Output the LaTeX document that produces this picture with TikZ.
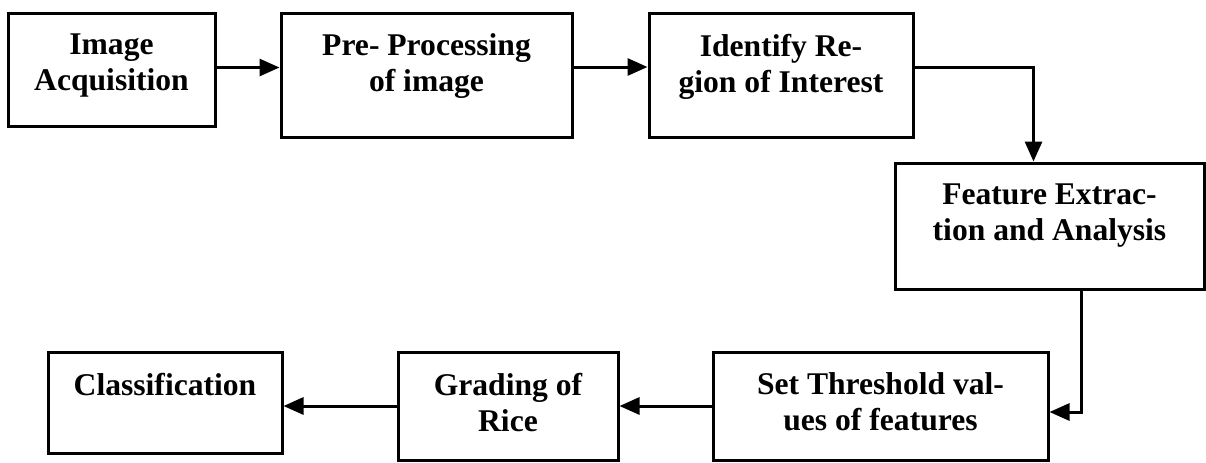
\documentclass[tikz,border=0pt]{standalone}
\usepackage{fontspec}
\setmainfont{Liberation Serif}
\usetikzlibrary{arrows.meta}

\begin{document}
\begin{tikzpicture}[x=0.5pt, y=-0.5pt,
    box/.style={draw, line width=1.5pt, inner sep=0pt},
    txt/.style={anchor=north, align=center, inner sep=0pt, font=\fontsize{15.8}{18}\selectfont\bfseries},
    arr/.style={line width=1.5pt, -{Triangle[length=10pt, width=8.5pt]}}]
  \useasboundingbox (0,0) rectangle (1206,462);
  % Top row
  \node[box, minimum width=103.5pt, minimum height=56.5pt] (acq) at (111.5,69.5) {};
  \node[txt] (acqtxt) at ([yshift=-11pt]acq.north) {Image\\Acquisition};
  \node[box, minimum width=145.5pt, minimum height=62pt] (pre) at (426.5,75) {};
  \node[txt] (pretxt) at ([yshift=-11pt]pre.north) {Pre- Processing\\of image};
  \node[box, minimum width=132pt, minimum height=62pt] (roi) at (781,75) {};
  \node[txt] (roitxt) at ([yshift=-11pt]roi.north) {Identify Re-\\gion of Interest};
  % Right
  \node[box, minimum width=154.5pt, minimum height=63pt] (feat) at (1049.5,226) {};
  \node[txt] (feattxt) at ([yshift=-11pt]feat.north) {Feature Extrac-\\tion and Analysis};
  % Bottom row
  \node[box, minimum width=167.5pt, minimum height=54pt] (thr) at (880.5,406) {};
  \node[txt] (thrtxt) at ([yshift=-11pt]thr.north) {Set Threshold val-\\ues of features};
  \node[box, minimum width=110pt, minimum height=54pt] (grade) at (508,406) {};
  \node[txt] (gradetxt) at ([yshift=-11pt]grade.north) {Grading of\\Rice};
  \node[box, minimum width=117pt, minimum height=50.5pt] (cls) at (165,402.5) {};
  \node[txt] (clstxt) at ([yshift=-11pt]cls.north) {Classification};
  % Arrows
  \draw[arr] ([yshift=1pt]acq.east) -- ([yshift=1pt]acq.east -| pre.west);
  \draw[arr] ([yshift=4pt]pre.east) -- ([yshift=4pt]roi.west);
  \draw[arr] ([yshift=4pt]roi.east) -| ([xshift=-8pt]feat.north);
  \draw[arr] ([xshift=16pt]feat.south) |- ([yshift=-3pt]thr.east);
  \draw[arr] (thr.west) -- (grade.east);
  \draw[arr] (grade.west) -- (grade.west -| cls.east);
\end{tikzpicture}
\end{document}
